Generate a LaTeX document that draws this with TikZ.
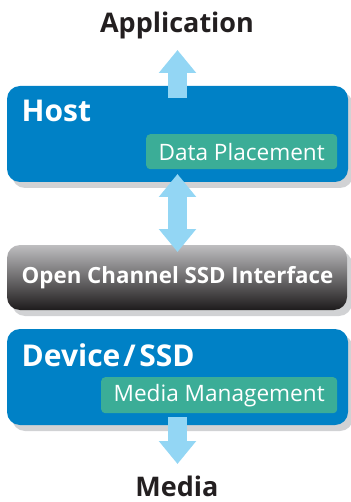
\documentclass[tikz,border=0pt]{standalone}
\usepackage{fontspec}
\setmainfont{Open Sans}
\usetikzlibrary{arrows.meta}
\definecolor{hostblue}{HTML}{0081C6}
\definecolor{tealbox}{HTML}{3BAD97}
\definecolor{arrowblue}{HTML}{93D6F4}
\definecolor{shadowgray}{HTML}{D1D2D4}
\definecolor{textblack}{HTML}{231F20}
\definecolor{ifacetop}{HTML}{BEBEC0}
\definecolor{ifacebot}{HTML}{1E1B1C}
\tikzset{
  shadowbox/.style={fill=shadowgray, rounded corners=13pt},
  bluebox/.style={fill=hostblue, rounded corners=13pt},
  ifacebox/.style={top color=ifacetop, bottom color=ifacebot, rounded corners=13pt},
  subbox/.style={fill=tealbox, rounded corners=4pt, text=white, font=\fontsize{22.6}{26}\selectfont, inner sep=0pt, anchor=north west},
  titletext/.style={text=white, font=\bfseries\fontsize{30}{34}\selectfont, inner sep=0pt, anchor=base west},
  outertext/.style={text=textblack, font=\bfseries\fontsize{27}{30}\selectfont, inner sep=0pt, anchor=base},
  fatarrow/.style={draw=arrowblue, line width=19pt, -{Triangle[length=23pt,width=36pt]}},
  fatdarrow/.style={draw=arrowblue, line width=19pt, {Triangle[length=23pt,width=36pt]}-{Triangle[length=23pt,width=36pt]}},
}
\begin{document}
\begin{tikzpicture}[x=1pt,y=-1pt]
\useasboundingbox (0,0) rectangle (350,502);
% texts outside
\node[outertext] (app) at (177,33) {Application};
\node[outertext] (media) at (177,496.5) {Media};
% host
\path[shadowbox] (12,92) rectangle (353,188);
\path[bluebox] (7,86) rectangle (348,182);
\node[titletext] (host) at (21.5,122) {Host};
\node[subbox, minimum width=191pt, minimum height=35pt] (dp) at (146,134) {Data Placement};
% interface
\path[shadowbox] (12,251) rectangle (352,316);
\path[ifacebox] (7,245) rectangle (347,310);
\node[text=white, font=\bfseries\fontsize{22.3}{26}\selectfont, inner sep=0pt] (iface) at (177.5,277.5) {Open Channel SSD Interface};
% device
\path[shadowbox] (12,335) rectangle (353,431);
\path[bluebox] (7,329) rectangle (348,425);
\node[titletext] (dev) at (21.5,366) {Device\kern3pt/\kern3.5pt SSD};
\node[subbox, minimum width=236pt, minimum height=36pt] (mm) at (101,377) {Media Management};
% arrow coordinates
\coordinate (a1s) at (177.5,98);
\coordinate (a1e) at (177.5,50);
\coordinate (a2s) at (177.5,174);
\coordinate (a2e) at (177.5,252);
\coordinate (a3s) at (177.5,417);
\coordinate (a3e) at (177.5,464);
\draw[fatarrow] (a1s) -- (a1e);
\draw[fatdarrow] (a2s) -- (a2e);
\draw[fatarrow] (a3s) -- (a3e);
\end{tikzpicture}
\end{document}
